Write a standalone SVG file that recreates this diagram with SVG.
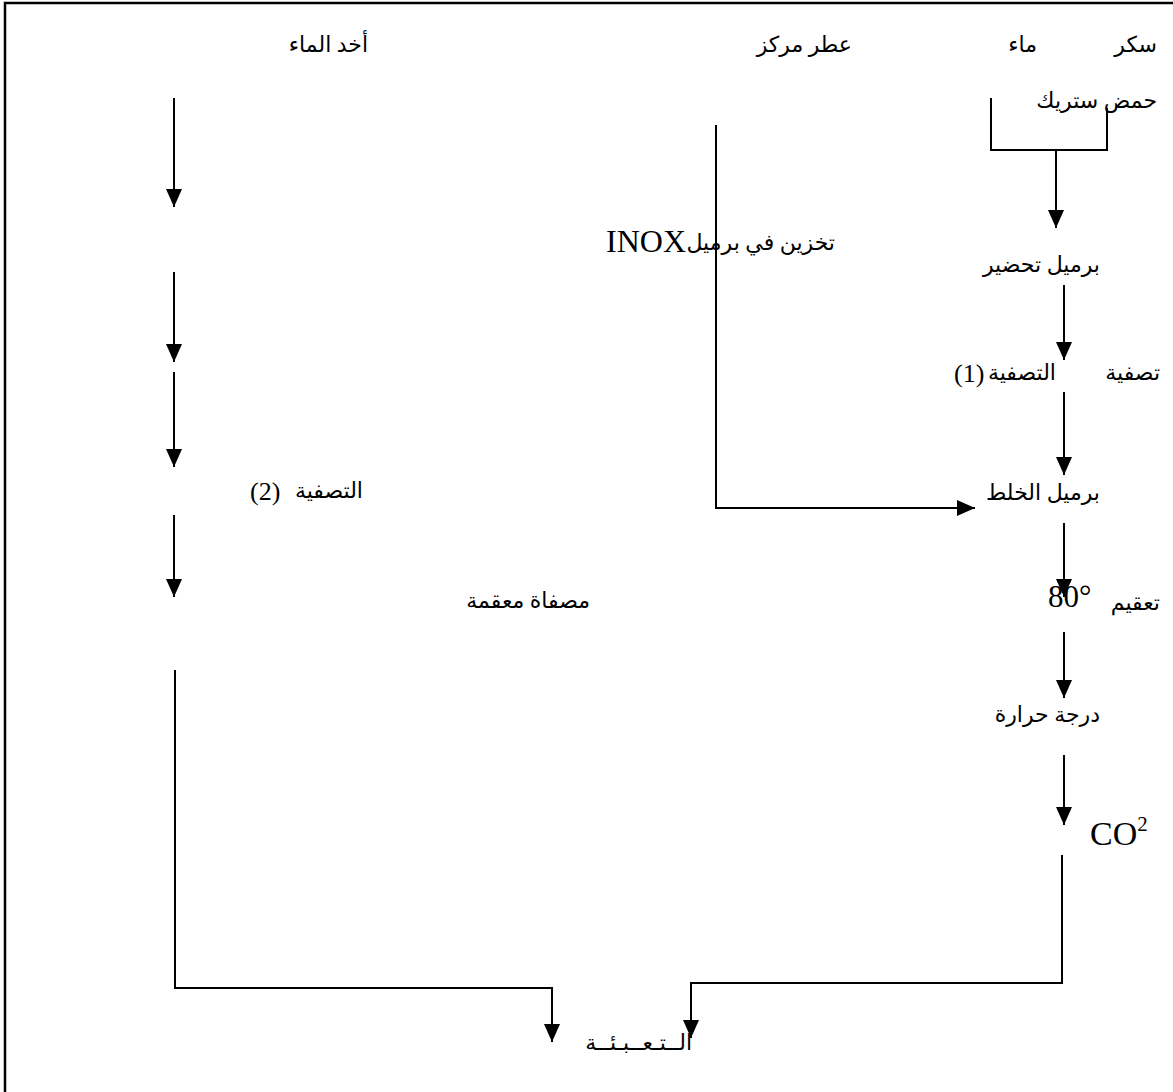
<svg xmlns="http://www.w3.org/2000/svg" width="1173" height="1092" viewBox="0 0 1173 1092">
<defs>
<marker id="ah" markerUnits="userSpaceOnUse" markerWidth="18" markerHeight="16" refX="18" refY="8" orient="auto" viewBox="0 0 18 16">
<path d="M0,0 L18,8 L0,16 z" fill="#000"/>
</marker>
</defs>
<style>
.ar{font-family:"Liberation Serif","DejaVu Sans",serif;font-size:22px;fill:#000;text-anchor:end}
.la{font-family:"Liberation Serif","Times New Roman",serif;fill:#000}
.ln{fill:none;stroke:#000;stroke-width:2}
.ad{marker-end:url(#ah)}
</style>
<rect x="5" y="3" width="1300" height="1200" fill="#fff" stroke="#000" stroke-width="2.5"/>
<g id="connectors">
<path class="ln" d="M991,98 V150 H1107 V108"/>
<path class="ln ad" d="M1056,150 V228"/>
<path class="ln ad" d="M1064,285 V360"/>
<path class="ln ad" d="M1064,392 V475"/>
<path class="ln ad" d="M1064,523 V597"/>
<path class="ln ad" d="M1064,632 V698"/>
<path class="ln ad" d="M1064,755 V825"/>
<path class="ln ad" d="M716,125 V508 H975"/>
<path class="ln ad" d="M174,98 V207"/>
<path class="ln ad" d="M174,272 V362"/>
<path class="ln ad" d="M174,372 V467"/>
<path class="ln ad" d="M174,515 V597"/>
<path class="ln ad" d="M175,670 V988 H552 V1042"/>
<path class="ln ad" d="M1062,855 V983 H691 V1038"/>
</g>
<g id="n-sukar"><text class="ar" x="1157" y="52">سكر</text></g>
<g id="n-maa"><text class="ar" x="1037" y="52">ماء</text></g>
<g id="n-hamd"><text class="ar" x="1157" y="108">حمض ستريك</text></g>
<g id="n-itr"><text class="ar" x="852" y="52">عطر مركز</text></g>
<g id="n-akhd"><text class="ar" x="368" y="52">أخد الماء</text></g>
<g id="n-tahdir"><text class="ar" x="1100" y="272">برميل تحضير</text></g>
<g id="n-takhzin"><text class="ar" x="835" y="250">تخزين في برميل</text><text class="la" x="686" y="252" font-size="32" text-anchor="end">INOX</text></g>
<g id="n-tasfiya"><text class="ar" x="1160" y="380">تصفية</text></g>
<g id="n-tasfiya1"><text class="ar" x="1056" y="380">التصفية</text><text class="la" x="954" y="382" font-size="26">(1)</text></g>
<g id="n-tasfiya2"><text class="ar" x="363" y="498">التصفية</text><text class="la" x="250" y="500" font-size="26">(2)</text></g>
<g id="n-khalt"><text class="ar" x="1100" y="500">برميل الخلط</text></g>
<g id="n-misfat"><text class="ar" x="590" y="608">مصفاة معقمة</text></g>
<g id="n-taqim"><text class="ar" x="1160" y="610">تعقيم</text><text class="la" x="1048" y="607" font-size="31">80°</text></g>
<g id="n-co2"><text class="la" x="1090" y="845" font-size="34">CO<tspan font-size="21" dy="-14">2</tspan></text></g>
<g id="n-daraja"><text class="ar" x="1100" y="722">درجة حرارة</text></g>
<g id="n-taba"><text class="ar" x="692" y="1050">الــتـعــبـئــة</text></g>
</svg>
